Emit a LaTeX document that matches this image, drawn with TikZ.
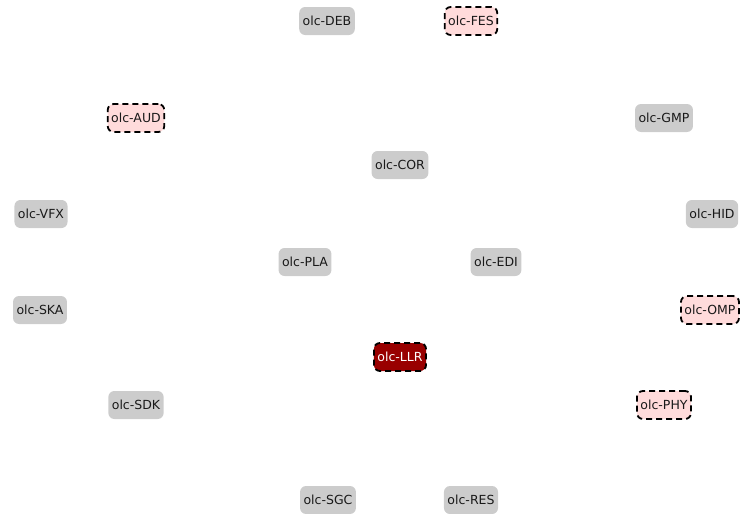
\documentclass[tikz,border=0pt]{standalone}
\usepackage{fontspec}
\setmainfont{DejaVu Sans}
\begin{document}
\begin{tikzpicture}[x=1pt,y=-1pt,
  base/.style={rounded corners=6pt, inner xsep=3.5pt, inner ysep=0pt, minimum height=28pt, font=\fontsize{12.5}{14}\selectfont, text=black!90},
  plain/.style={base, fill=gray!40},
  flagged/.style={base, fill=red!14, draw=black, line width=1.8pt, dash pattern=on 6pt off 4pt},
  focus/.style={base, fill=red!60!black, draw=black, line width=1.8pt, dash pattern=on 6pt off 4pt, text=white}]
\useasboundingbox (0,0) rectangle (740,514);
\node[plain]   (deb) at (327,21)  {olc-DEB};
\node[flagged] (fes) at (471,21)  {olc-FES};
\node[flagged] (aud) at (136,118) {olc-AUD};
\node[plain]   (gmp) at (664,118) {olc-GMP};
\node[plain]   (cor) at (400,165) {olc-COR};
\node[plain]   (vfx) at (41,214)  {olc-VFX};
\node[plain]   (hid) at (712,214) {olc-HID};
\node[plain]   (pla) at (305,262) {olc-PLA};
\node[plain]   (edi) at (496,262) {olc-EDI};
\node[plain]   (ska) at (40,310)  {olc-SKA};
\node[flagged] (omp) at (710,310) {olc-OMP};
\node[focus]   (llr) at (400,357) {olc-LLR};
\node[plain]   (sdk) at (136,405) {olc-SDK};
\node[flagged] (phy) at (664,405) {olc-PHY};
\node[plain]   (sgc) at (328,500) {olc-SGC};
\node[plain]   (res) at (471,500) {olc-RES};
\end{tikzpicture}
\end{document}
